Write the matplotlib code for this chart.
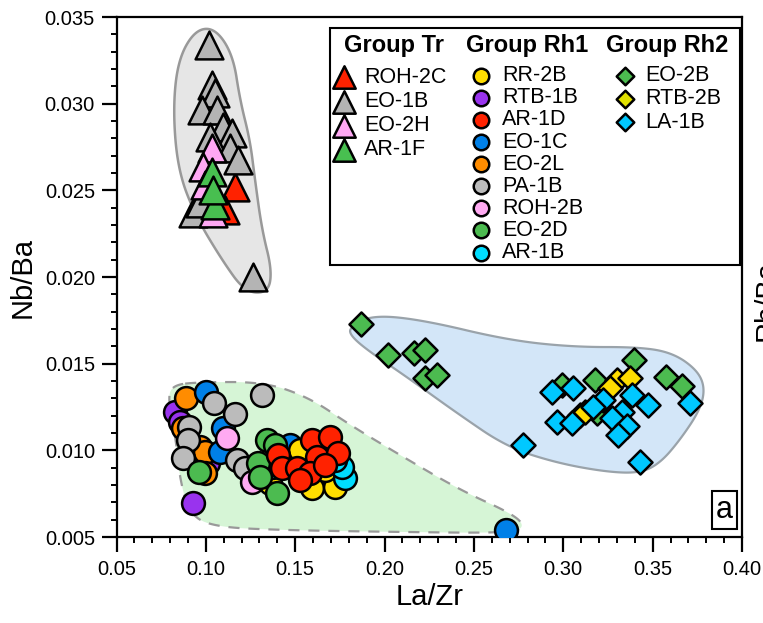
import numpy as np
import matplotlib
matplotlib.use("Agg")
import matplotlib.pyplot as plt
from matplotlib.patches import Polygon, Rectangle
from matplotlib.ticker import MultipleLocator

plt.rcParams['font.family'] = ['Liberation Sans', 'DejaVu Sans']

# ---- data: (La/Zr, Nb/Ba) per sample ----
# Group Tr (triangles)
roh2c_x = [0.1163, 0.1107]
roh2c_y = [0.02519, 0.02387]
eo1b_x = [0.1018, 0.1033, 0.1051, 0.0977, 0.1061, 0.1096, 0.1145, 0.1023, 0.1135, 0.1180, 0.0928, 0.0967, 0.1264]
eo1b_y = [0.03338, 0.03108, 0.03062, 0.02963, 0.02963, 0.02865, 0.02831, 0.02808, 0.02744, 0.02675, 0.02370, 0.02427, 0.02000]
eo2h_x = [0.1033, 0.0984, 0.0995, 0.1040]
eo2h_y = [0.02744, 0.02635, 0.02531, 0.02370]
ar1f_x = [0.1033, 0.1051, 0.1040]
ar1f_y = [0.02606, 0.02415, 0.02502]

# Group Rh1 (circles)
rtb1b_x = [0.0827, 0.0855, 0.1012, 0.0928]
rtb1b_y = [0.01221, 0.01163, 0.00927, 0.00696]
eo2l_x = [0.0889, 0.0872, 0.0967, 0.0995, 0.0995]
eo2l_y = [0.01304, 0.01129, 0.01019, 0.00990, 0.00869]
eo1c_x = [0.1001, 0.1096, 0.1079, 0.1471, 0.2680]
eo1c_y = [0.01336, 0.01129, 0.00990, 0.01031, 0.00540]
pa1b_x = [0.1046, 0.0906, 0.0900, 0.0872, 0.1163, 0.1174, 0.1314, 0.1219]
pa1b_y = [0.01273, 0.01136, 0.01060, 0.00956, 0.01210, 0.00944, 0.01319, 0.00898]
roh2b_x = [0.1118, 0.1258]
roh2b_y = [0.01071, 0.00817]
rr2b_x = [0.1527, 0.1359, 0.1594, 0.1723, 0.1667]
rr2b_y = [0.01002, 0.00812, 0.00783, 0.00788, 0.00886]
ar1b_x = [0.1376, 0.1779, 0.1762, 0.1723]
ar1b_y = [0.00904, 0.00840, 0.00904, 0.00944]
eo2d_x = [0.0962, 0.1292, 0.1303, 0.1342, 0.1387, 0.1398]
eo2d_y = [0.00875, 0.00927, 0.00846, 0.01060, 0.01031, 0.00754]
ar1d_x = [0.1594, 0.1695, 0.1622, 0.1740, 0.1404, 0.1426, 0.1510, 0.1583, 0.1527, 0.1667]
ar1d_y = [0.01060, 0.01077, 0.00962, 0.00985, 0.00973, 0.00898, 0.00898, 0.00869, 0.00829, 0.00915]

# Group Rh2 (diamonds)
eo2b_x = [0.1867, 0.2021, 0.2165, 0.2226, 0.2226, 0.2292, 0.2991, 0.3178, 0.3396, 0.3575, 0.3663, 0.3094, 0.3187]
eo2b_y = [0.01729, 0.01550, 0.01563, 0.01579, 0.01417, 0.01435, 0.01377, 0.01406, 0.01521, 0.01425, 0.01371, 0.01204, 0.01215]
rtb2b_x = [0.3299, 0.3374, 0.3262, 0.3122]
rtb2b_y = [0.01406, 0.01417, 0.01360, 0.01221]
la1b_x = [0.2935, 0.3056, 0.3383, 0.3474, 0.3709, 0.3224, 0.3168, 0.3327, 0.2963, 0.3047, 0.3271, 0.3355, 0.3308, 0.2776, 0.3430]
la1b_y = [0.01338, 0.01358, 0.01319, 0.01261, 0.01273, 0.01290, 0.01248, 0.01223, 0.01165, 0.01156, 0.01185, 0.01140, 0.01088, 0.01031, 0.00934]

# field outlines (rough, smoothed below)
tr_field = [(0.0939, 0.03425), (0.1051, 0.03437), (0.1152, 0.03281), (0.1191, 0.03021), (0.1247, 0.02790),
            (0.1275, 0.02560), (0.1314, 0.02271), (0.1370, 0.02040), (0.1348, 0.01908), (0.1219, 0.01913),
            (0.1090, 0.02098), (0.0939, 0.02358), (0.0844, 0.02617), (0.0816, 0.02963), (0.0844, 0.03252)]
rh1_field = [(0.0811, 0.01377), (0.0967, 0.01394), (0.1331, 0.01394), (0.1583, 0.01302), (0.1807, 0.01146),
             (0.2086, 0.00973), (0.2422, 0.00771), (0.2730, 0.00627), (0.2786, 0.00552), (0.2674, 0.00523),
             (0.2086, 0.00529), (0.1415, 0.00540), (0.1051, 0.00558), (0.0911, 0.00627), (0.0855, 0.00829),
             (0.0833, 0.01060), (0.0788, 0.01290)]
rh2_field = [(0.1807, 0.01711), (0.1930, 0.01781), (0.2215, 0.01752), (0.2685, 0.01637), (0.3054, 0.01596),
             (0.3430, 0.01596), (0.3615, 0.01561), (0.3749, 0.01463), (0.3793, 0.01360), (0.3765, 0.01233),
             (0.3653, 0.01060), (0.3542, 0.00927), (0.3430, 0.00869), (0.3245, 0.00875), (0.2965, 0.00927),
             (0.2685, 0.01019), (0.2405, 0.01215), (0.2125, 0.01423), (0.1902, 0.01579), (0.1807, 0.01665)]


def smooth(pts, n=4):
    p = np.array(pts)
    for _ in range(n):
        q = 0.75 * p + 0.25 * np.roll(p, -1, axis=0)
        r = 0.25 * p + 0.75 * np.roll(p, -1, axis=0)
        p = np.empty((2 * len(q), 2))
        p[0::2] = q
        p[1::2] = r
    return p


fig = plt.figure(figsize=(7.63, 6.23), dpi=100)
ax = fig.add_axes([0.1527, 0.138, 0.8198, 0.8347])

ax.add_patch(Polygon(smooth(tr_field), closed=True, fc='#e6e6e6', ec='#999999', lw=1.8, zorder=1))
ax.add_patch(Polygon(smooth(rh1_field), closed=True, fc='#d6f5d6', ec='#999999', lw=1.6, ls=(0, (5, 4)), zorder=1))
ax.add_patch(Polygon(smooth(rh2_field), closed=True, fc='#d3e6f8', ec='#9aa3aa', lw=1.6, zorder=1))

tri = dict(marker='^', s=400, edgecolors='black', linewidths=1.8, zorder=3)
circ = dict(marker='o', s=270, edgecolors='black', linewidths=1.8, zorder=3)
dia = dict(marker='D', s=150, edgecolors='black', linewidths=1.8, zorder=3)

ax.scatter(roh2c_x, roh2c_y, c='#ff2200', **tri)
ax.scatter(eo1b_x, eo1b_y, c='#b4b4b4', **tri)
ax.scatter(eo2h_x, eo2h_y, c='#ffa8f4', **tri)
ax.scatter(ar1f_x, ar1f_y, c='#48bf50', **tri)

ax.scatter(rtb1b_x, rtb1b_y, c='#9933ee', **circ)
ax.scatter(eo2l_x, eo2l_y, c='#ff8c00', **circ)
ax.scatter(eo1c_x, eo1c_y, c='#0080e8', **circ)
ax.scatter(pa1b_x, pa1b_y, c='#bbbbbb', **circ)
ax.scatter(roh2b_x, roh2b_y, c='#ffaaf2', **circ)
ax.scatter(rr2b_x, rr2b_y, c='#ffdd00', **circ)
ax.scatter(ar1b_x, ar1b_y, c='#00ddff', **circ)
ax.scatter(eo2d_x, eo2d_y, c='#4cbb50', **circ)
ax.scatter(ar1d_x, ar1d_y, c='#ff2200', **circ)

ax.scatter(eo2b_x, eo2b_y, c='#4cbb50', **dia)
ax.scatter(rtb2b_x, rtb2b_y, c='#ffdd00', **dia)
ax.scatter(la1b_x, la1b_y, c='#00c8ff', **dia)

ax.set_xlim(0.05, 0.40)
ax.set_ylim(0.005, 0.035)
ax.xaxis.set_major_locator(MultipleLocator(0.05))
ax.xaxis.set_minor_locator(MultipleLocator(0.01))
ax.yaxis.set_major_locator(MultipleLocator(0.005))
ax.yaxis.set_minor_locator(MultipleLocator(0.001))
ax.xaxis.set_major_formatter(plt.FormatStrFormatter('%.2f'))
ax.yaxis.set_major_formatter(plt.FormatStrFormatter('%.3f'))
ax.tick_params(which='major', direction='out', length=10.5, width=1.6, labelsize=14.5)
ax.tick_params(axis='x', which='major', pad=6)
ax.tick_params(axis='y', which='major', pad=5)
ax.tick_params(which='minor', direction='out', length=4.5, width=1.4)
for s in ax.spines.values():
    s.set_linewidth(1.6)

lab = dict(fontsize=21)
ax.set_xlabel('La/Zr', labelpad=3, **lab)
ax.set_ylabel('Nb/Ba', labelpad=6, **lab)
fig.text(0.986, 0.518, 'Rb/Ba', rotation=90, ha='left', va='center', **lab)

# panel letter
ax.text(0.972, 0.052, 'a', transform=ax.transAxes, ha='center', va='center', fontsize=22,
        bbox=dict(boxstyle='square,pad=0.12', fc='white', ec='black', lw=1.5), zorder=6)

# legend box drawn by hand
T = ax.transAxes
ax.add_patch(Rectangle((0.341, 0.523), 0.656, 0.456, transform=T, fc='white', ec='black', lw=1.5, zorder=5))
groups = [
    ('Group Tr', 0.444, 0.363, 0.0465, 0.884, '^', 260, [('ROH-2C', '#ff2200'), ('EO-1B', '#b4b4b4'), ('EO-2H', '#ffa8f4'), ('AR-1F', '#48bf50')]),
    ('Group Rh1', 0.656, 0.583, 0.0425, 0.887, 'o', 125, [('RR-2B', '#ffdd00'), ('RTB-1B', '#9933ee'), ('AR-1D', '#ff2200'),
                                                    ('EO-1C', '#0080e8'), ('EO-2L', '#ff8c00'), ('PA-1B', '#bbbbbb'),
                                                    ('ROH-2B', '#ffaaf2'), ('EO-2D', '#4cbb50'), ('AR-1B', '#00ddff')]),
    ('Group Rh2', 0.881, 0.813, 0.0445, 0.887, 'D', 80, [('EO-2B', '#4cbb50'), ('RTB-2B', '#e0e000'), ('LA-1B', '#00c8ff')]),
]
for title, tx, mx, dy, y0, mk, ms, items in groups:
    ax.text(tx, 0.945, title, transform=T, ha='center', va='center', fontsize=17, fontweight='bold', zorder=6)
    for i, (name, col) in enumerate(items):
        yy = y0 - i * dy
        ax.scatter([mx], [yy], transform=T, marker=mk, s=ms, c=col, edgecolors='black', linewidths=1.8, zorder=6, clip_on=False)
        ax.text(mx + 0.033, yy, name, transform=T, ha='left', va='center', fontsize=15.5, zorder=6)

fig.savefig('out.png', dpi=100)
